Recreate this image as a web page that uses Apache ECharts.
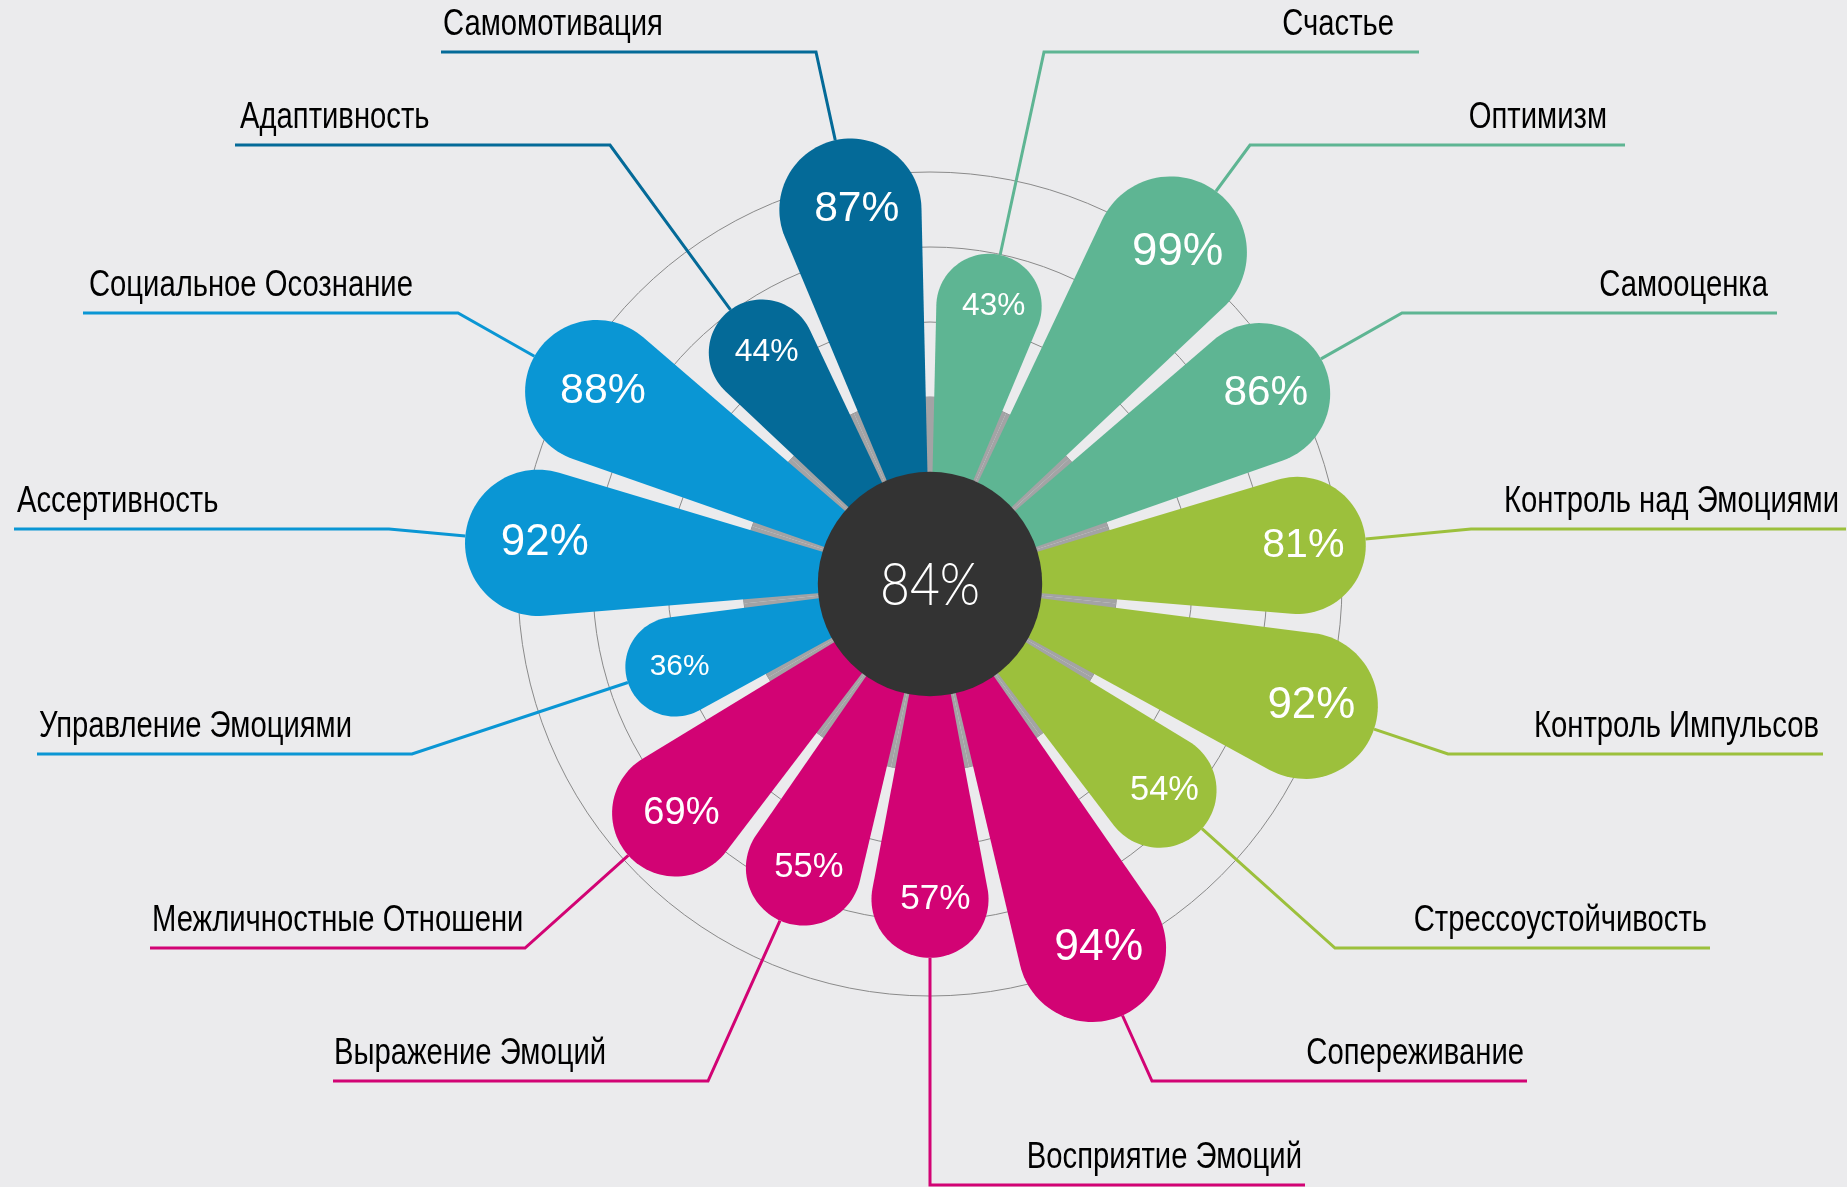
<!DOCTYPE html>
<html>
<head>
<meta charset="utf-8">
<script src="https://cdn.jsdelivr.net/npm/echarts@6/dist/echarts.min.js"></script>
<style>
html,body{margin:0;padding:0;background:#ebebed;}
#chart{width:1847px;height:1187px;}
</style>
</head>
<body>
<div id="chart"></div>
<script>
// ---------- DATA ----------
const categories = [
  'Счастье', 'Оптимизм', 'Самооценка', 'Контроль над Эмоциями', 'Контроль Импульсов',
  'Стрессоустойчивость', 'Сопереживание', 'Восприятие Эмоций', 'Выражение Эмоций',
  'Межличностные Отношени', 'Управление Эмоциями', 'Ассертивность',
  'Социальное Осознание', 'Адаптивность', 'Самомотивация'
];
const values = [43, 99, 86, 81, 92, 54, 94, 57, 55, 69, 36, 92, 88, 44, 87];
const groups = [
  'wellbeing', 'wellbeing', 'wellbeing', 'control', 'control', 'control',
  'relations', 'relations', 'relations', 'relations',
  'social', 'social', 'social', 'motivation', 'motivation'
];
const overallScore = 84;

// ---------- STYLE / LAYOUT ----------
const groupColors = {
  wellbeing: '#5eb593',
  control: '#9cc03c',
  relations: '#d20374',
  social: '#0a96d4',
  motivation: '#046a98'
};
const POLAR_CENTER = [930, 584];
const PETAL_HALF_ANGLE = 10.7 * Math.PI / 180;
const rowY = [52, 145, 313, 529, 754, 948, 1081];
const rowDx = [114, 320, 472, 541, 518, 405, 222];
const rightInset = [25, 18, 9, 7, 4, 3, 3];
const leftInset = [2, 5, 6, 3, 2, 2, 1];
const bottomY = 1185;
const LINE_LEN = 375;
const LABEL_FONT = 37;
const LABEL_SCALE_X = 0.79;
const LABEL_RAISE = 27;

const seriesData = values.map((v, i) => [v, i]);

function renderPetal(params, api) {
  const i = params.dataIndex;
  const n = categories.length;
  const v = api.value(0);
  const color = groupColors[groups[i]];
  const cs = params.coordSys;
  const cx = cs.cx, cy = cs.cy;
  const p = api.coord([v, api.value(1)]);
  const p0 = api.coord([0, api.value(1)]);
  const innerR = Math.hypot(p0[0] - cx, p0[1] - cy);
  const dx = p[0] - cx, dy = p[1] - cy;
  const d = Math.hypot(dx, dy);
  const th = Math.atan2(dy, dx);
  const a = PETAL_HALF_ANGLE;
  const R = d * Math.sin(a);

  const pts = [[cx, cy]];
  const N = 60;
  const start = th + Math.PI / 2 + a, end = th - Math.PI / 2 - a;
  for (let k = 0; k <= N; k++) {
    const ang = start + (end - start) * k / N;
    pts.push([p[0] + R * Math.cos(ang), p[1] + R * Math.sin(ang)]);
  }

  // leader line layout
  const half = (n - 1) / 2;
  let elbow, lineEnd, align, textX;
  if (i === half) {
    elbow = [cx, bottomY];
    lineEnd = [cx + LINE_LEN, bottomY];
    align = 'right'; textX = lineEnd[0] - 3;
  } else if (i < half) {
    const row = i;
    elbow = [cx + rowDx[row], rowY[row]];
    lineEnd = [elbow[0] + LINE_LEN, elbow[1]];
    align = 'right'; textX = lineEnd[0] - rightInset[row];
  } else {
    const row = n - 1 - i;
    elbow = [cx - rowDx[row], rowY[row]];
    lineEnd = [elbow[0] - LINE_LEN, elbow[1]];
    align = 'left'; textX = lineEnd[0] + leftInset[row];
  }
  const ex = elbow[0] - p[0], ey = elbow[1] - p[1];
  const el = Math.hypot(ex, ey);
  const bpt = [p[0] + R * ex / el, p[1] + R * ey / el];

  const band = Math.PI / n;
  const fs = 0.6 * R;

  return {
    type: 'group',
    children: [
      {
        type: 'sector',
        shape: { cx: cx, cy: cy, r0: innerR * 0.5, r: innerR, startAngle: th - band, endAngle: th + band, clockwise: true },
        style: { fill: '#a3a3a5' },
        z2: 1
      },
      {
        type: 'polyline',
        shape: { points: [bpt, elbow, lineEnd] },
        style: { stroke: color, lineWidth: 3, fill: null },
        z2: 2
      },
      {
        type: 'polygon',
        shape: { points: pts },
        style: { fill: color },
        z2: 3
      },
      {
        type: 'text',
        x: p[0] + 0.15 * fs,
        y: p[1],
        style: {
          text: v + '%', fill: '#ffffff', fontSize: fs,
          fontFamily: '"Liberation Sans", Arial, sans-serif',
          align: 'center', verticalAlign: 'middle'
        },
        z2: 4
      },
      {
        type: 'text',
        x: textX,
        y: elbow[1] - LABEL_RAISE,
        scaleX: LABEL_SCALE_X,
        style: {
          text: categories[i], fill: '#000000', fontSize: LABEL_FONT,
          fontFamily: '"Liberation Sans", Arial, sans-serif',
          align: align, verticalAlign: 'middle'
        },
        z2: 4
      }
    ]
  };
}

function renderCenter(params, api) {
  const cs = params.coordSys;
  const cx = cs.cx, cy = cs.cy;
  const p0 = api.coord([0, 0]);
  const innerR = Math.hypot(p0[0] - cx, p0[1] - cy);
  const r = innerR * 0.6;
  return {
    type: 'group',
    children: [
      { type: 'circle', shape: { cx: cx, cy: cy, r: r }, style: { fill: '#333333' }, z2: 10 },
      {
        type: 'text', x: cx, y: cy + 2, scaleX: 0.86,
        style: {
          text: api.value(2) + '%', fill: '#ffffff', fontSize: 60, fontWeight: 300,
          fontFamily: 'Lato, Roboto, "Open Sans", sans-serif',
          align: 'center', verticalAlign: 'middle'
        },
        z2: 11
      }
    ]
  };
}

const chart = echarts.init(document.getElementById('chart'), null, { renderer: 'canvas' });
chart.setOption({
  backgroundColor: '#ebebed',
  animation: false,
  polar: { center: POLAR_CENTER, radius: [187, 412] },
  angleAxis: {
    type: 'category',
    data: categories,
    startAngle: 90,
    clockwise: true,
    axisLine: { show: false },
    axisTick: { show: false },
    axisLabel: { show: false },
    splitLine: { show: false }
  },
  radiusAxis: {
    type: 'value',
    min: 0,
    max: 100,
    interval: 100 / 3,
    axisLine: { show: false },
    axisTick: { show: false },
    axisLabel: { show: false },
    splitLine: { show: true, lineStyle: { color: '#8a8a8a', width: 1 } }
  },
  series: [
    {
      type: 'custom',
      coordinateSystem: 'polar',
      encode: { radius: 0, angle: 1 },
      data: seriesData,
      renderItem: renderPetal,
      z: 2
    },
    {
      type: 'custom',
      coordinateSystem: 'polar',
      encode: { radius: 0, angle: 1 },
      data: [[0, 0, overallScore]],
      renderItem: renderCenter,
      z: 3
    }
  ]
});
</script>
</body>
</html>
